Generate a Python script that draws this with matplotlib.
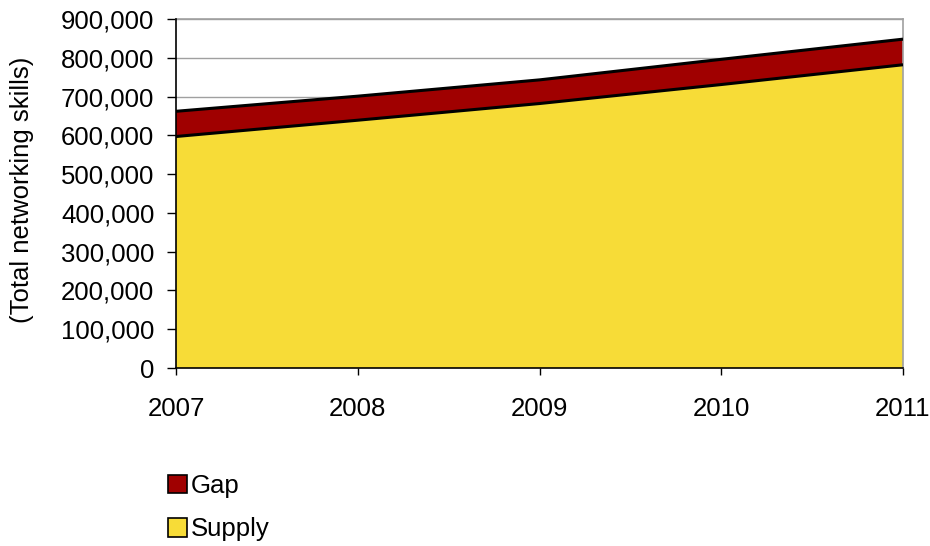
import matplotlib
matplotlib.use("Agg")
import matplotlib.pyplot as plt
from matplotlib.patches import Patch
from matplotlib.ticker import FuncFormatter

years = [2007, 2008, 2009, 2010, 2011]
supply = [597000, 639000, 682000, 731000, 782000]
gap = [65000, 62000, 61000, 65000, 66000]
series_names = ["Gap", "Supply"]
y_label = "(Total networking skills)"

plt.rcParams['font.family'] = ['Liberation Sans', 'DejaVu Sans']

fig = plt.figure(figsize=(9.3, 5.46), dpi=100)
ax = fig.add_axes([176/930, 1-368/546, (903-176)/930, (368-19)/546])

gap_col = "#A00000"
sup_col = "#F7DC37"
fs = 18.5

top = [s + g for s, g in zip(supply, gap)]
ax.fill_between(years, 0, supply, facecolor=sup_col, edgecolor="none", zorder=2)
ax.fill_between(years, supply, top, facecolor=gap_col, edgecolor="none", zorder=2)
ax.plot(years, supply, color="black", lw=2.2, zorder=3, solid_capstyle="butt")
ax.plot(years, top, color="black", lw=2.2, zorder=3, solid_capstyle="butt")

ax.set_xlim(years[0], years[-1])
ax.set_ylim(0, 900000)
ax.set_yticks(range(0, 900001, 100000))
ax.set_xticks(years)
ax.yaxis.set_major_formatter(FuncFormatter(lambda v, p: f"{int(v):,}"))
ax.grid(axis="y", color="#A0A0A0", lw=1, zorder=1)
ax.set_axisbelow(True)

for s in ["top", "right"]:
    ax.spines[s].set_color("#A0A0A0")
    ax.spines[s].set_linewidth(1.2)
for s in ["left", "bottom"]:
    ax.spines[s].set_color("black")
    ax.spines[s].set_linewidth(1.2)
    ax.spines[s].set_zorder(4)

ax.tick_params(axis="y", direction="out", length=6.5, width=1, pad=9, labelsize=fs)
ax.tick_params(axis="x", direction="out", length=5, width=1, pad=16, labelsize=fs)

fig.text(22/930, 1-190/546, y_label, rotation=90, ha="center", va="center", fontsize=fs)

handles = [Patch(facecolor=gap_col, edgecolor="black", lw=1.2),
           Patch(facecolor=sup_col, edgecolor="black", lw=1.2)]
fig.legend(handles, series_names, loc="upper left", bbox_to_anchor=(168/930, 1-474/546),
           frameon=False, fontsize=fs, handlelength=0.75, handleheight=0.75,
           handletextpad=0.15, labelspacing=0.75, borderaxespad=0, borderpad=0)

fig.savefig("out.png", dpi=100)
